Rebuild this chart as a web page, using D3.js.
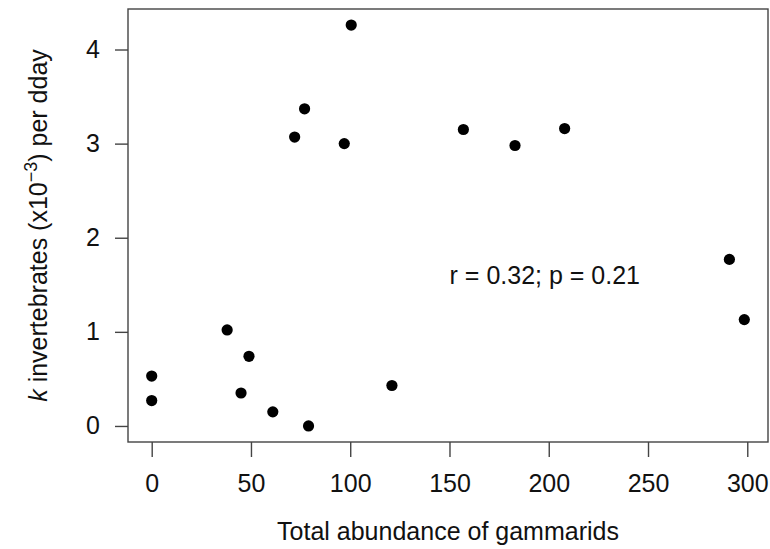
<!DOCTYPE html>
<html>
<head>
<meta charset="utf-8">
<script src="https://cdn.jsdelivr.net/npm/d3@7"></script>
<style>
  body { margin: 0; background: #fff; }
  svg { display: block; font-family: "Liberation Sans", Arial, sans-serif; }
</style>
</head>
<body>
<svg id="chart"></svg>
<script>
// gammarid abundance vs decomposition rate k (x10^-3 per degree-day)
var abundance = [0, 0, 38, 45, 49, 61, 79, 121, 72, 77, 97, 100.5, 157, 183, 208, 291, 298.5];
var kValues = [0.53, 0.27, 1.02, 0.35, 0.74, 0.15, 0.0, 0.43, 3.07, 3.37, 3.0, 4.26, 3.15, 2.98, 3.16, 1.77, 1.13];
var xTicks = [0, 50, 100, 150, 200, 250, 300];
var yTicks = [0, 1, 2, 3, 4];
var statText = "r = 0.32; p = 0.21";
var statPos = [198, 1.6];

var largura = 770, altura = 549;
var margem = {top: 9, right: 2, bottom: 107, left: 128};
var corEixo = "#444";
var corTexto = "#111";
var fonte = "25px";

var svg = d3.select("#chart").attr("width", largura).attr("height", altura);

// R style: 4% extension of the data range
function pad(ext) {
    var d = (ext[1] - ext[0]) * 0.04;
    return [ext[0] - d, ext[1] + d];
}

var x = d3.scaleLinear()
    .domain(pad(d3.extent(abundance)))
    .range([margem.left, largura - margem.right]);
var y = d3.scaleLinear()
    .domain(pad(d3.extent(kValues)))
    .range([altura - margem.bottom, margem.top]);

// caixa do grafico
svg.append("rect")
    .attr("x", margem.left)
    .attr("y", margem.top)
    .attr("width", largura - margem.left - margem.right)
    .attr("height", altura - margem.top - margem.bottom)
    .attr("fill", "none")
    .attr("stroke", corEixo)
    .attr("stroke-width", 1.4);

var eixoX = svg.append("g")
    .attr("transform", "translate(0," + (altura - margem.bottom) + ")")
    .call(d3.axisBottom(x).tickValues(xTicks).tickSize(15).tickPadding(17).tickFormat(d3.format("d")));
var eixoY = svg.append("g")
    .attr("transform", "translate(" + margem.left + ",0)")
    .call(d3.axisLeft(y).tickValues(yTicks).tickSize(13).tickPadding(15).tickFormat(d3.format("d")));

[eixoX, eixoY].forEach(function (g) {
    g.select(".domain").remove();
    g.selectAll(".tick line").attr("stroke", corEixo).attr("stroke-width", 1.4);
    g.selectAll(".tick text")
        .attr("fill", corTexto)
        .style("font-size", fonte)
        .style("font-family", "'Liberation Sans', Arial, sans-serif");
});

// pontos
svg.append("g")
    .selectAll("circle")
    .data(abundance)
    .enter()
    .append("circle")
    .attr("cx", function (d) { return x(d); })
    .attr("cy", function (d, i) { return y(kValues[i]); })
    .attr("r", 5.6)
    .attr("fill", "#000");

// texto r / p
svg.append("text")
    .attr("x", x(statPos[0]))
    .attr("y", y(statPos[1]))
    .attr("text-anchor", "middle")
    .attr("dominant-baseline", "central")
    .attr("fill", corTexto)
    .style("font-size", fonte)
    .text(statText);

// titulos dos eixos
var meioX = (margem.left + largura - margem.right) / 2;
svg.append("text")
    .attr("x", meioX)
    .attr("y", 540)
    .attr("text-anchor", "middle")
    .attr("fill", corTexto)
    .style("font-size", fonte)
    .text("Total abundance of gammarids");

var meioY = (margem.top + altura - margem.bottom) / 2;
var tituloY = svg.append("text")
    .attr("transform", "translate(47," + meioY + ") rotate(-90)")
    .attr("text-anchor", "middle")
    .attr("fill", corTexto)
    .style("font-size", fonte);
tituloY.append("tspan").style("font-style", "italic").text("k");
tituloY.append("tspan").text(" invertebrates (x10");
tituloY.append("tspan").attr("dy", -10).style("font-size", "18px").text("\u22123");
tituloY.append("tspan").attr("dy", 10).text(") per dday");
</script>
</body>
</html>
